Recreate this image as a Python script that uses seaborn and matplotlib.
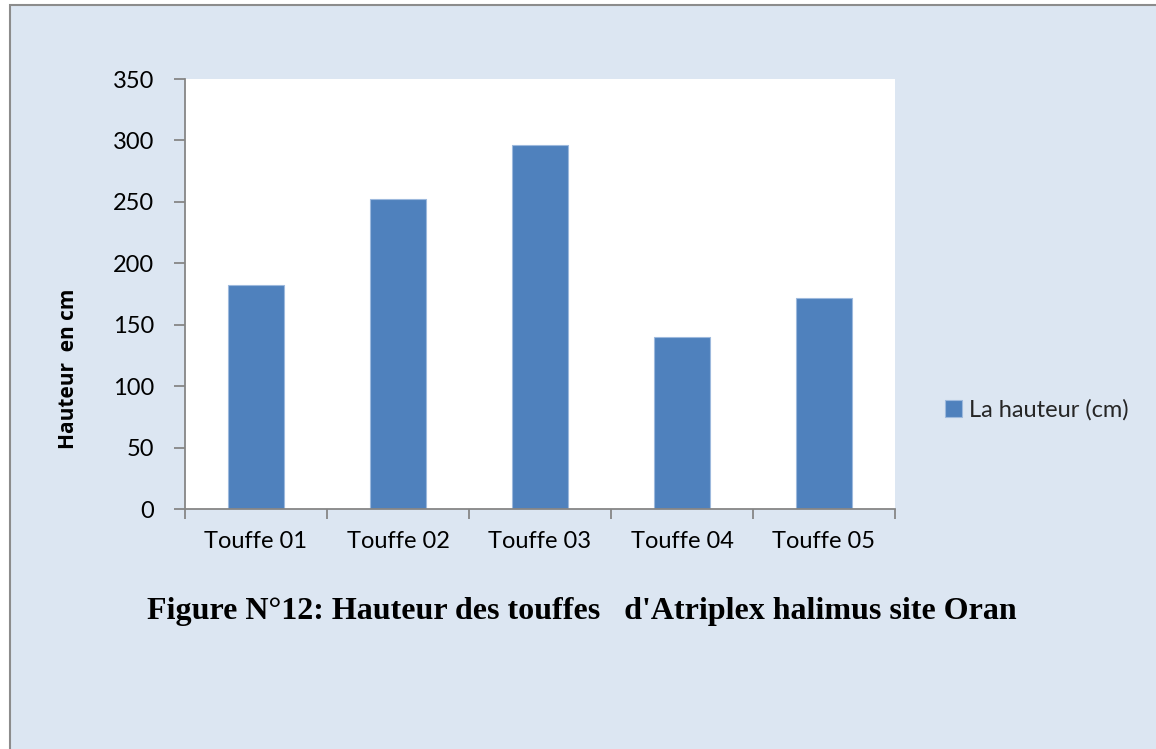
import matplotlib
matplotlib.use("Agg")
import matplotlib.pyplot as plt
import matplotlib.patches as mpatches
import seaborn as sns
import pandas as pd
import numpy as np

# data
touffes = ["Touffe 01", "Touffe 02", "Touffe 03", "Touffe 04", "Touffe 05"]
hauteur = [182, 252, 296, 140, 172]
y_ticks = [0, 50, 100, 150, 200, 250, 300, 350]

series_name = "La hauteur (cm)"
title = "Figure N°12: Hauteur des touffes   d'Atriplex halimus site Oran"
y_title = "Hauteur  en cm"

bg = "#DCE6F2"
bar_col = "#4F81BD"
axis_col = "#868686"

sns.set_theme(style="white")
plt.rcParams["font.family"] = ["Lato", "DejaVu Sans"]

df = pd.DataFrame({"touffe": touffes, "hauteur": hauteur})

W, H = 1156, 749
fig = plt.figure(figsize=(W / 100, H / 100), dpi=100, facecolor="white")

# chart area frame (light blue box with grey border)
frame = mpatches.Rectangle((10 / W, -0.1), 1.2, 1 - 5 / H + 0.1,
                           transform=fig.transFigure, facecolor=bg,
                           edgecolor="#8C8C8C", lw=1.5, zorder=-5)
fig.patches.append(frame)

ax = fig.add_axes([185 / W, 1 - 509 / H, 710 / W, 430 / H])
ax.set_zorder(2)
ax.set_facecolor("white")

sns.barplot(data=df, x="touffe", y="hauteur", color=bar_col, width=0.4,
            saturation=1, edgecolor="#9DB9DD", linewidth=0.8,
            label=series_name, ax=ax)
if ax.get_legend() is not None:
    ax.get_legend().remove()

ax.set_xlim(-0.5, len(touffes) - 0.5)
ax.set_ylim(0, 350)
ax.set_yticks(y_ticks)
ax.set_xlabel("")
ax.set_ylabel("")

for s in ["top", "right"]:
    ax.spines[s].set_visible(False)
for s in ["left", "bottom"]:
    ax.spines[s].set_color(axis_col)
    ax.spines[s].set_linewidth(1.3)

ax.tick_params(axis="y", which="major", direction="out", length=8, width=1.3,
               color=axis_col, labelsize=17, pad=14, left=True)
ax.tick_params(axis="x", which="major", length=0, labelsize=17, pad=16)
ax.set_xticks(np.arange(-0.5, len(touffes)), minor=True)
ax.tick_params(axis="x", which="minor", direction="out", length=7, width=1.3,
               color=axis_col, bottom=True)
for lab in ax.get_xticklabels() + ax.get_yticklabels():
    lab.set_color("black")

fig.text(68 / W, 1 - 369 / H, y_title, rotation=90, ha="center", va="center",
         fontsize=15, fontweight="bold", family=["Open Sans", "DejaVu Sans"],
         color="black")

h, l = ax.get_legend_handles_labels()
fig.legend(h[:1], l[:1], loc="center left", bbox_to_anchor=(945 / W, 1 - 410 / H),
           frameon=False, fontsize=17, handlelength=0.7, handleheight=0.7,
           handletextpad=0.3, borderpad=0, borderaxespad=0)

fig.text(582 / W, 1 - 612 / H, title, ha="center", va="center",
         fontsize=23, fontweight="bold", family=["Liberation Serif", "DejaVu Serif"],
         color="black")

fig.savefig("out.png", dpi=100, facecolor=fig.get_facecolor())
